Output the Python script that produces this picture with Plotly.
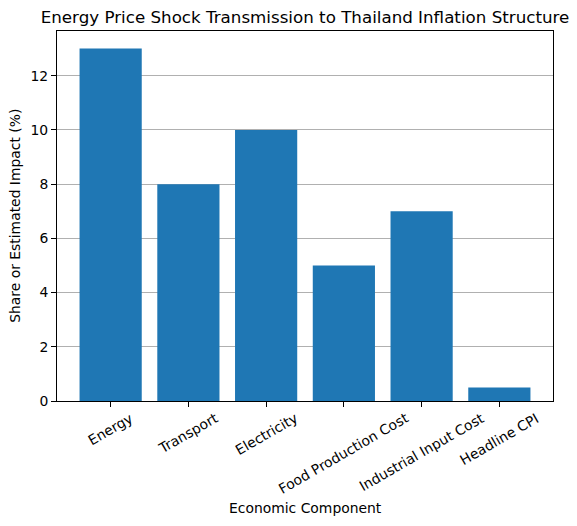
import plotly.graph_objects as go

components = ["Energy", "Transport", "Electricity", "Food Production Cost",
              "Industrial Input Cost", "Headline CPI"]
impact = [13, 8, 10, 5, 7, 0.5]
y_ticks = [0, 2, 4, 6, 8, 10, 12]

font = "DejaVu Sans, Liberation Sans, sans-serif"
fs = 13.9

bars = go.Bar(
    x=list(range(len(components))),
    y=impact,
    width=0.8,
    marker=dict(color="#1f77b4", line=dict(width=0)),
    name="Impact",
)

fig = go.Figure(data=[bars])

# rotated labels centred under each tick, like matplotlib rotation=30
for i, name in enumerate(components):
    fig.add_annotation(
        x=i, y=0, xref="x", yref="paper",
        text=name, textangle=-30, showarrow=False,
        xanchor="center", yanchor="top", yshift=-6,
        font=dict(family=font, size=fs, color="black"),
    )

# axis titles placed by hand
fig.add_annotation(
    x=0.5, y=-0.288, xref="paper", yref="paper", text="Economic Component",
    showarrow=False, xanchor="center", yanchor="middle",
    font=dict(family=font, size=fs, color="black"),
)
fig.add_annotation(
    x=-0.085, y=0.5, xref="paper", yref="paper", text="Share or Estimated Impact (%)",
    showarrow=False, xanchor="center", yanchor="middle", textangle=-90,
    font=dict(family=font, size=fs, color="black"),
)

# the page puts the plot 8px in from the corner, so size it to fit
fig.update_layout(
    width=569, height=518,
    margin=dict(l=49, r=24, t=23, b=125),
    paper_bgcolor="white", plot_bgcolor="white",
    font=dict(family=font, size=fs, color="black"),
    showlegend=False,
    title=dict(text="Energy Price Shock Transmission to Thailand Inflation Structure",
               x=49.0 / 569 + 0.5 * 496 / 569, xanchor="center", y=0.983, yanchor="middle",
               font=dict(size=16.7, color="black")),
)

fig.update_xaxes(
    range=[-0.69, 5.69],
    tickvals=list(range(len(components))), ticktext=[""] * len(components),
    ticks="outside", ticklen=5, tickwidth=1, tickcolor="black",
    showline=True, linecolor="black", linewidth=1, mirror=True,
    showgrid=False, zeroline=False,
)

fig.update_yaxes(
    range=[0, 13.65], tickvals=y_ticks,
    ticks="outside", ticklen=5, tickwidth=1, tickcolor="black",
    showline=True, linecolor="black", linewidth=1, mirror=True,
    showgrid=True, gridcolor="#b0b0b0", gridwidth=1, zeroline=False,
    tickfont=dict(size=fs),
)

fig.write_html("out.html")
